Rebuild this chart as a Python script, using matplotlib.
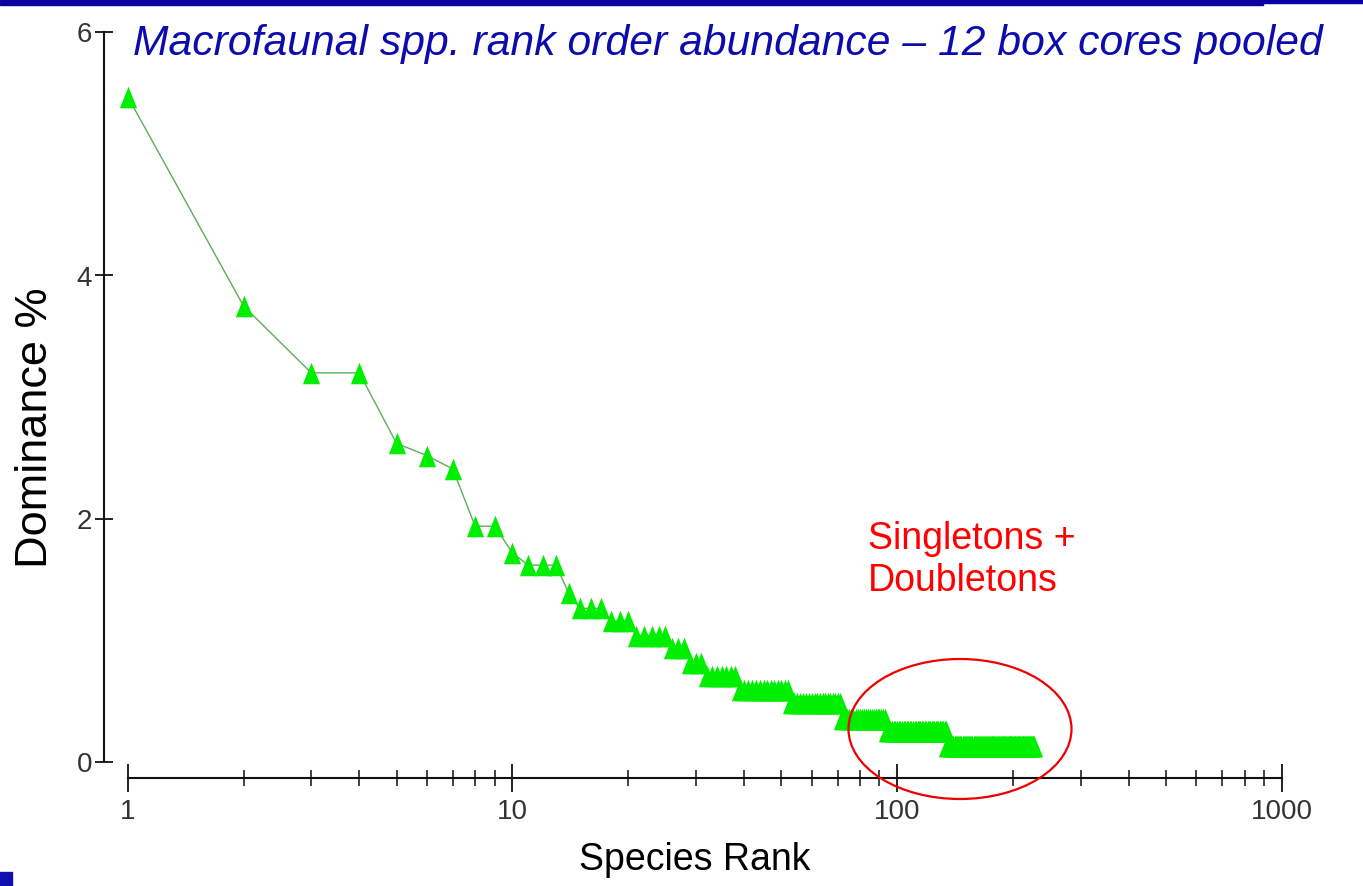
import numpy as np
import matplotlib
matplotlib.use('Agg')
import matplotlib.pyplot as plt
from matplotlib.patches import Ellipse, Rectangle
from matplotlib.ticker import FixedLocator, NullFormatter

# ---------------- data ----------------
dominance_levels = [5.47, 3.75, 3.20, 2.62, 2.52, 2.41, 1.94, 1.72, 1.62, 1.39,
                    1.265, 1.16, 1.04, 0.94, 0.815, 0.71, 0.59, 0.487, 0.356,
                    0.257, 0.13]
species_per_level = [1, 1, 2, 1, 1, 1, 2, 1, 3, 1,
                     3, 3, 5, 3, 3, 7, 14, 19, 22,
                     41, 93]
x_major_ticks = [1, 10, 100, 1000]
x_tick_labels = ['1', '10', '100', '1000']
y_ticks = [0, 2, 4, 6]
y_tick_labels = ['0', '2', '4', '6']
title_text = "Macrofaunal spp. rank order abundance \u2013 12 box cores pooled"
xlabel_text = "Species Rank"
ylabel_text = "Dominance %"
note_lines = ["Singletons +", "Doubletons"]

dominance = np.repeat(dominance_levels, species_per_level)
rank = np.arange(1, len(dominance) + 1)

# ---------------- figure ----------------
W, H = 1363, 886
fig = plt.figure(figsize=(W / 100, H / 100), dpi=100)
fig.patch.set_facecolor('white')

ax_left, ax_right = 104, 1300
ax_bottom, ax_top = 778, 20
ax = fig.add_axes([ax_left / W, 1 - ax_bottom / H,
                   (ax_right - ax_left) / W, (ax_bottom - ax_top) / H])
ax.set_xscale('log')
x1_px, dec_px = 127.7, 384.7
y0_px, unit_px = 762.3, 121.7
ax.set_xlim(10 ** ((ax_left - x1_px) / dec_px), 10 ** ((ax_right - x1_px) / dec_px))
ax.set_ylim((y0_px - ax_bottom) / unit_px, (y0_px - ax_top) / unit_px)
ax.patch.set_alpha(0)

tri = [(-0.8, -1), (0.8, -1), (0, 1), (-0.8, -1)]
ax.plot(rank, dominance, color='#5aae5a', lw=1.0, zorder=2)
ax.plot(rank, dominance, ls='none', marker=tri, ms=15.5,
        mfc='#00ee00', mec='#00ee00', mew=0, zorder=3)

for s in ['top', 'right']:
    ax.spines[s].set_visible(False)
ax.spines['left'].set_bounds(0, 6)
ax.spines['bottom'].set_bounds(1, 1000)
for s in ['left', 'bottom']:
    ax.spines[s].set_linewidth(1.5)
    ax.spines[s].set_color('#111111')

tick_font = ['Liberation Sans', 'DejaVu Sans']
ax.xaxis.set_major_locator(FixedLocator(x_major_ticks))
ax.set_xticklabels(x_tick_labels)
minor = [m * d for d in (1, 10, 100) for m in range(2, 10)]
ax.xaxis.set_minor_locator(FixedLocator(minor))
ax.xaxis.set_minor_formatter(NullFormatter())
ax.set_yticks(y_ticks)
ax.set_yticklabels(y_tick_labels)

ax.tick_params(axis='x', which='major', direction='inout', length=20, width=1.3,
               pad=5, labelsize=20, labelcolor='#333333', color='#111111')
ax.tick_params(axis='x', which='minor', direction='inout', length=11, width=1.1,
               color='#111111')
ax.tick_params(axis='y', which='major', direction='inout', length=13, width=1.3,
               pad=2, labelsize=20, labelcolor='#333333', color='#111111')
for lab in ax.get_xticklabels() + ax.get_yticklabels():
    lab.set_family(tick_font)

# texts
fig.text(133 / W, 1 - 55 / H, title_text, style='italic', color='#0c0cae',
         fontsize=30.7, family=['Liberation Sans', 'DejaVu Sans'],
         ha='left', va='baseline')
fig.text(695 / W, 1 - 870 / H, xlabel_text, fontsize=27,
         family=['Liberation Sans', 'DejaVu Sans'], ha='center', va='baseline',
         color='black')
fig.text(36 / W, 1 - 428 / H, ylabel_text, fontsize=32.5, rotation=90,
         family=['Liberation Sans', 'DejaVu Sans'], ha='center', va='center',
         color='black')
fig.text(868 / W, 1 - 549 / H, note_lines[0], fontsize=27, color='#ff0000',
         family=['Liberation Sans', 'DejaVu Sans'], ha='left', va='baseline')
fig.text(868 / W, 1 - 591 / H, note_lines[1], fontsize=27, color='#ff0000',
         family=['Liberation Sans', 'DejaVu Sans'], ha='left', va='baseline')

# decorations
fig.patches.append(Ellipse((960 / W, 1 - 729 / H), 223 / W, 140 / H,
                           transform=fig.transFigure, fill=False,
                           ec='#ee0000', lw=1.6))
fig.patches.append(Rectangle((0, 1 - 5 / H), 1263 / W, 5 / H,
                             transform=fig.transFigure, color='#0d00a5'))
fig.patches.append(Rectangle((1263 / W, 1 - 3 / H), 100 / W, 3 / H,
                             transform=fig.transFigure, color='#0d00a5'))
fig.patches.append(Rectangle((0, 0), 12 / W, 14 / H,
                             transform=fig.transFigure, color='#1010b0'))

fig.savefig('out.png', dpi=100)
